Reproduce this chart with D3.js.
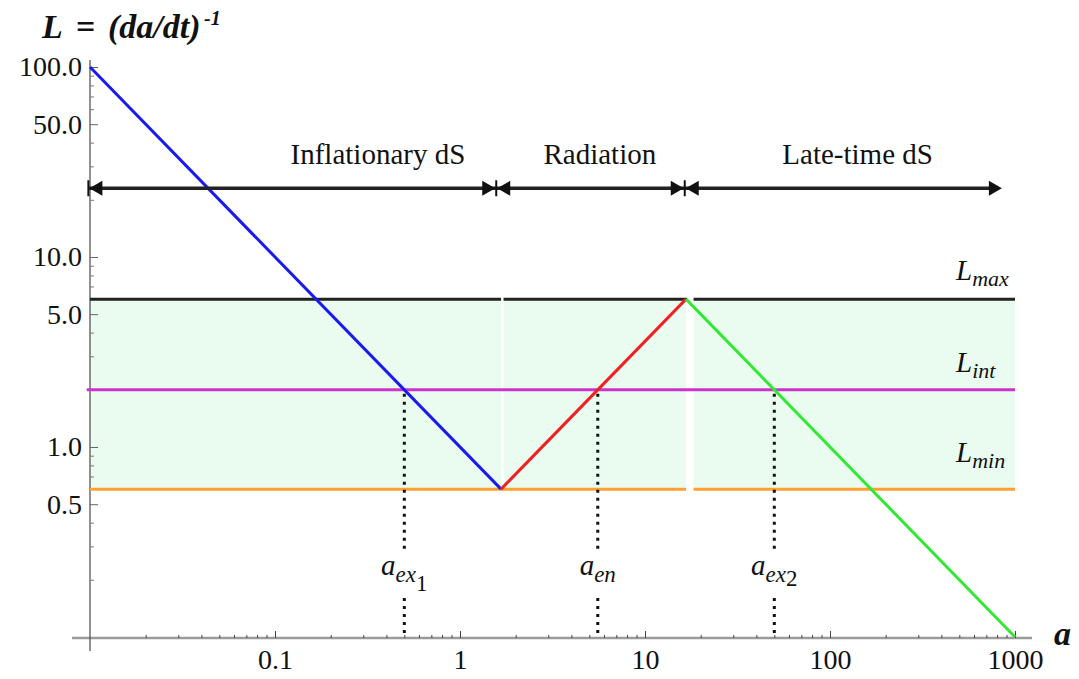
<!DOCTYPE html>
<html>
<head>
<meta charset="utf-8">
<script src="https://cdn.jsdelivr.net/npm/d3@7"></script>
<style>
  body { margin: 0; background: #fff; }
  text { font-family: "Liberation Serif", "DejaVu Serif", serif; fill: #111; }
</style>
</head>
<body>
<script>
// levels of L
const levelNames = ["max", "int", "min"];
const levelValues = [6, 2, 0.6];
const levelColors = ["#222222", "#cc33cc", "#ffa030"];

// the three curve pieces (a, L)
const blueCurve = [[0.01, 100], [1.667, 0.6]];
const redCurve = [[1.667, 0.6], [16.67, 6]];
const greenCurve = [[16.67, 6], [1000, 0.1]];

// shaded bands between Lmin and Lmax (a ranges)
const bandStarts = [0.01, 1.72, 18.3];
const bandEnds = [1.667, 16.67, 1000];

// crossings with L_int
const crossA = [0.5, 5.556, 50];
const crossMain = ["a", "a", "a"];
const crossSub = ["ex", "en", "ex"];
const crossSubSub = ["1", "", "2"];

// eras
const eraNames = ["Inflationary dS", "Radiation", "Late-time dS"];
const eraBounds = [0.0098, 1.57, 16.4, 860];
const eraLabelA = [0.36, 5.7, 141];
const eraArrowL = 23;

// ticks
const xTickValues = [0.1, 1, 10, 100, 1000];
const xTickLabels = ["0.1", "1", "10", "100", "1000"];
const yTickValues = [0.5, 1, 5, 10, 50, 100];
const yTickLabels = ["0.5", "1.0", "5.0", "10.0", "50.0", "100.0"];

function main() {
    let svg = d3.select("body").append("svg")
        .attr("width", 1079)
        .attr("height", 679);

    let x = d3.scaleLog().domain([0.01, 1000]).range([90, 1015]);
    let y = d3.scaleLog().domain([0.1, 100]).range([637, 67]);

    // shaded bands
    svg.selectAll("rect.band")
        .data(bandStarts)
        .enter()
        .append("rect")
        .attr("class", "band")
        .attr("x", d => x(d))
        .attr("width", (d, i) => x(bandEnds[i]) - x(d))
        .attr("y", y(levelValues[0]))
        .attr("height", y(levelValues[2]) - y(levelValues[0]))
        .attr("fill", "#eafcef");

    // minor ticks positions
    let minors = [];
    for (let e = -2; e < 3; e++) {
        for (let m = 2; m < 10; m++) minors.push(m * Math.pow(10, e));
    }
    let yMinors = [];
    for (let e = -1; e < 2; e++) {
        for (let m = 2; m < 10; m++) if (m != 5) yMinors.push(+(m * Math.pow(10, e)).toFixed(3));
    }

    // axes lines
    svg.append("line")
        .attr("x1", 72).attr("x2", 1032)
        .attr("y1", 638).attr("y2", 638)
        .attr("stroke", "#9a9a9a").attr("stroke-width", 2.5);
    svg.append("line")
        .attr("x1", 90).attr("x2", 90)
        .attr("y1", 60).attr("y2", 651)
        .attr("stroke", "#555").attr("stroke-width", 1.3);

    let xAxis = d3.axisBottom(x).tickValues(xTickValues)
        .tickFormat((d, i) => xTickLabels[i])
        .tickSizeInner(-7).tickSizeOuter(0).tickPadding(11);
    let gx = svg.append("g")
        .attr("transform", "translate(0,638)")
        .call(xAxis);
    gx.select(".domain").remove();
    gx.selectAll("text").style("font-size", "28px")
        .style("font-family", "Liberation Serif").attr("fill", "#111");
    gx.selectAll("line").attr("stroke", "#444");

    let gxm = svg.append("g")
        .attr("transform", "translate(0,638)")
        .call(d3.axisBottom(x).tickValues(minors).tickFormat("").tickSizeInner(-3).tickSizeOuter(0));
    gxm.select(".domain").remove();
    gxm.selectAll("line").attr("stroke", "#444");

    let yAxis = d3.axisLeft(y).tickValues(yTickValues)
        .tickFormat((d, i) => yTickLabels[i])
        .tickSizeInner(-8).tickSizeOuter(0).tickPadding(8);
    let gy = svg.append("g")
        .attr("transform", "translate(90,0)")
        .call(yAxis);
    gy.select(".domain").remove();
    gy.selectAll("text").style("font-size", "28px")
        .style("font-family", "Liberation Serif").attr("fill", "#111");
    gy.selectAll("line").attr("stroke", "#666");

    let gym = svg.append("g")
        .attr("transform", "translate(90,0)")
        .call(d3.axisLeft(y).tickValues(yMinors).tickFormat("").tickSizeInner(-4).tickSizeOuter(0));
    gym.select(".domain").remove();
    gym.selectAll("line").attr("stroke", "#777");

    // horizontal level lines
    // Lmax: broken at each band gap
    bandStarts.forEach((s, i) => {
        svg.append("line")
            .attr("x1", x(s)).attr("x2", x(bandEnds[i]) + (i == 1 ? 1 : 0))
            .attr("y1", y(levelValues[0])).attr("y2", y(levelValues[0]))
            .attr("stroke", levelColors[0]).attr("stroke-width", 3);
    });
    // Lint: continuous
    svg.append("line")
        .attr("x1", x(0.0096)).attr("x2", x(1000))
        .attr("y1", y(levelValues[1])).attr("y2", y(levelValues[1]))
        .attr("stroke", levelColors[1]).attr("stroke-width", 3);
    // Lmin: broken at second gap
    [[bandStarts[0], bandEnds[1]], [bandStarts[2], bandEnds[2]]].forEach(r => {
        svg.append("line")
            .attr("x1", x(r[0])).attr("x2", x(r[1]))
            .attr("y1", y(levelValues[2])).attr("y2", y(levelValues[2]))
            .attr("stroke", levelColors[2]).attr("stroke-width", 3);
    });

    // level labels
    let lvl = svg.selectAll("text.lvl")
        .data(levelNames)
        .enter()
        .append("text")
        .attr("class", "lvl")
        .attr("x", 956)
        .attr("y", (d, i) => y(levelValues[i]) - [19, 18, 27][i])
        .style("font-size", "29px")
        .style("font-style", "italic");
    lvl.append("tspan").text("L");
    lvl.append("tspan").attr("dy", 6).style("font-size", "22px").text(d => d);

    // dotted verticals
    crossA.forEach((a, i) => {
        let px = x(a);
        svg.append("line")
            .attr("x1", px).attr("x2", px)
            .attr("y1", y(levelValues[1]) + 4).attr("y2", 552)
            .attr("stroke", "#111").attr("stroke-width", 3)
            .attr("stroke-dasharray", "3,5");
        svg.append("line")
            .attr("x1", px).attr("x2", px)
            .attr("y1", 598).attr("y2", 636)
            .attr("stroke", "#111").attr("stroke-width", 3)
            .attr("stroke-dasharray", "3,5");
        let t = svg.append("text")
            .attr("x", px)
            .attr("y", 575)
            .attr("text-anchor", "middle")
            .style("font-size", "29px");
        t.append("tspan").style("font-style", "italic").text(crossMain[i]);
        t.append("tspan").attr("dy", 7).style("font-style", "italic")
            .style("font-size", "23px").text(crossSub[i]);
        if (crossSubSub[i] != "") {
            t.append("tspan").attr("dy", i == 0 ? 9 : 4)
                .style("font-size", "23px").text(crossSubSub[i]);
        }
    });

    // curves
    let line = d3.line().x(d => x(d[0])).y(d => y(d[1]));
    [[blueCurve, "#1a1aee"], [redCurve, "#ee2222"], [greenCurve, "#33e833"]].forEach(c => {
        svg.append("path")
            .datum(c[0])
            .attr("d", line)
            .attr("fill", "none")
            .attr("stroke", c[1])
            .attr("stroke-width", 3);
    });

    // era arrows
    let ay = y(eraArrowL);
    svg.append("line")
        .attr("x1", x(eraBounds[0])).attr("x2", x(eraBounds[3]) - 6)
        .attr("y1", ay).attr("y2", ay)
        .attr("stroke", "#222").attr("stroke-width", 3.4);
    let headL = 13, headH = 7.5;
    eraBounds.forEach((b, i) => {
        let px = x(b);
        if (i < 3) {
            // bar and left-pointing head to the right of bound
            svg.append("line")
                .attr("x1", px).attr("x2", px)
                .attr("y1", ay - 8).attr("y2", ay + 8)
                .attr("stroke", "#111").attr("stroke-width", 2);
            svg.append("path")
                .attr("d", `M${px + 1},${ay} L${px + 1 + headL},${ay - headH} L${px + 1 + headL},${ay + headH} Z`)
                .attr("fill", "#111");
        }
        if (i > 0) {
            svg.append("path")
                .attr("d", `M${px - 1},${ay} L${px - 1 - headL},${ay - headH} L${px - 1 - headL},${ay + headH} Z`)
                .attr("fill", "#111");
        }
    });

    svg.selectAll("text.era")
        .data(eraNames)
        .enter()
        .append("text")
        .attr("class", "era")
        .attr("x", (d, i) => x(eraLabelA[i]))
        .attr("y", 164)
        .attr("text-anchor", "middle")
        .style("font-size", "29px")
        .text(d => d);

    // title
    let title = svg.append("g")
        .style("font-size", "34px")
        .style("font-weight", "bold")
        .style("font-style", "italic");
    title.append("text").attr("x", 42).attr("y", 38).text("L");
    title.append("text").attr("x", 76).attr("y", 38).style("font-style", "normal").text("=");
    title.append("text").attr("x", 108).attr("y", 38).text("(da/dt)");
    title.append("text").attr("x", 204).attr("y", 25).style("font-size", "20px").text("-1");

    // x label
    svg.append("text")
        .attr("x", 1054)
        .attr("y", 645)
        .style("font-size", "34px")
        .style("font-weight", "bold")
        .style("font-style", "italic")
        .text("a");
}

main()
</script>
</body>
</html>
